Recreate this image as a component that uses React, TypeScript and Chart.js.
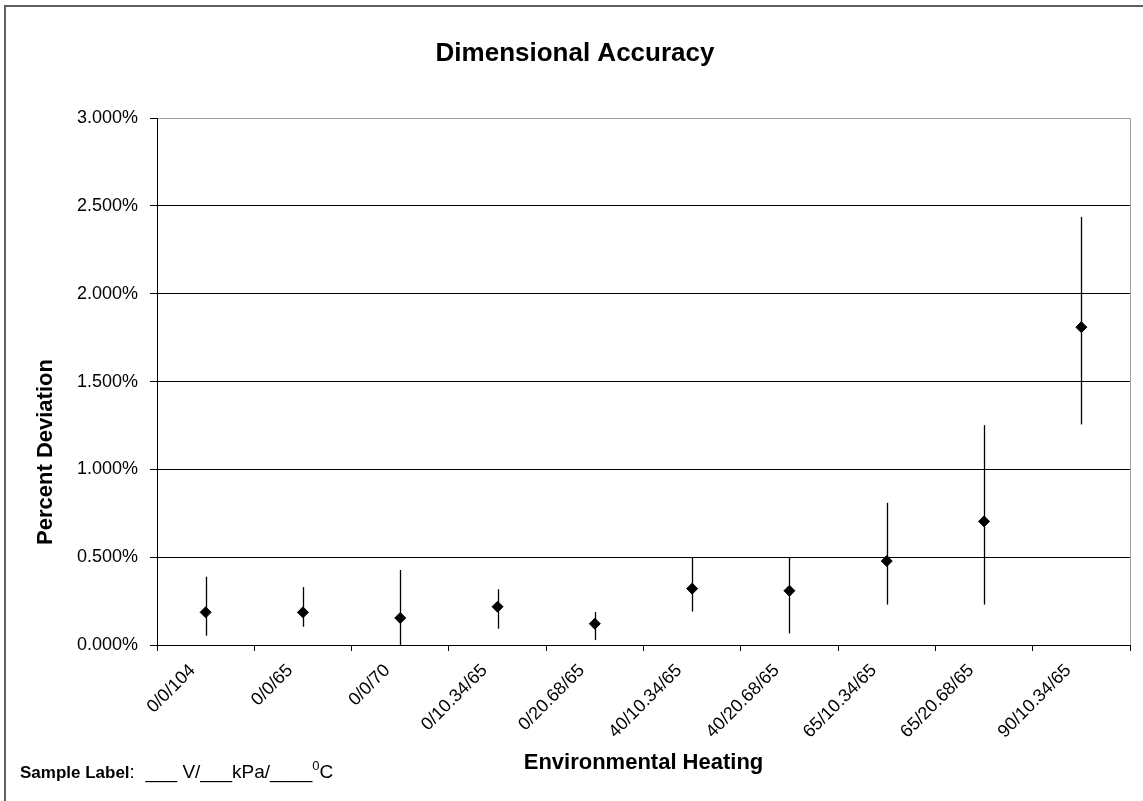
import React, { useEffect, useRef } from 'react';
import { Chart, registerables } from 'chart.js';

Chart.register(...registerables);

const categories = [
  '0/0/104',
  '0/0/65',
  '0/0/70',
  '0/10.34/65',
  '0/20.68/65',
  '40/10.34/65',
  '40/20.68/65',
  '65/10.34/65',
  '65/20.68/65',
  '90/10.34/65',
];
const meanValues = [0.186, 0.186, 0.154, 0.218, 0.121, 0.321, 0.309, 0.478, 0.704, 1.81];
const upperValues = [0.389, 0.33, 0.427, 0.317, 0.188, 0.5, 0.5, 0.81, 1.252, 2.438];
const lowerValues = [0.053, 0.104, 0.0, 0.093, 0.028, 0.19, 0.066, 0.23, 0.23, 1.256];

const chartTitle = 'Dimensional Accuracy';
const xTitle = 'Environmental Heating';
const yTitle = 'Percent Deviation';

const FONT = "'Liberation Sans', Arial, Helvetica, sans-serif";

export default function App() {
  const ref = useRef<HTMLCanvasElement>(null);

  useEffect(() => {
    if (!ref.current) return;

    const errorBars = {
      id: 'errorBars',
      beforeDatasetsDraw(chart: any) {
        const { ctx, scales } = chart;
        const x = scales.x;
        const y = scales.y;
        ctx.save();
        ctx.strokeStyle = '#000';
        ctx.lineWidth = 1.3;
        categories.forEach((_, i) => {
          const px = Math.round(x.getPixelForValue(i)) + 0.5;
          ctx.beginPath();
          ctx.moveTo(px, y.getPixelForValue(upperValues[i]));
          ctx.lineTo(px, y.getPixelForValue(lowerValues[i]));
          ctx.stroke();
        });
        ctx.restore();
      },
    };

    const frame = {
      id: 'frame',
      beforeDraw(chart: any) {
        const { ctx, width, height } = chart;
        ctx.save();
        ctx.fillStyle = '#fff';
        ctx.fillRect(0, 0, width, height);
        ctx.restore();
      },
      afterDraw(chart: any) {
        const { ctx, chartArea } = chart;
        ctx.save();
        // outer chart border
        ctx.strokeStyle = '#606060';
        ctx.lineWidth = 2;
        ctx.strokeRect(5, 6, 1200, 900);
        // plot area right border
        ctx.strokeStyle = '#a0a0a0';
        ctx.lineWidth = 1;
        ctx.beginPath();
        ctx.moveTo(Math.round(chartArea.right) + 0.5, chartArea.top);
        ctx.lineTo(Math.round(chartArea.right) + 0.5, chartArea.bottom);
        ctx.stroke();
        // y axis title
        ctx.fillStyle = '#000';
        ctx.font = `bold 22px ${FONT}`;
        ctx.textAlign = 'center';
        ctx.textBaseline = 'middle';
        ctx.translate(46, 452);
        ctx.rotate(-Math.PI / 2);
        ctx.fillText(yTitle, 0, 0);
        ctx.restore();

        // sample label
        ctx.save();
        ctx.fillStyle = '#000';
        ctx.textBaseline = 'alphabetic';
        ctx.textAlign = 'left';
        let cx = 20;
        const by = 778;
        ctx.font = `bold 17px ${FONT}`;
        ctx.fillText('Sample Label', cx, by);
        cx += ctx.measureText('Sample Label').width;
        ctx.font = `19px ${FONT}`;
        const mid = ':  ___ V/___kPa/____';
        ctx.fillText(mid, cx, by);
        cx += ctx.measureText(mid).width;
        ctx.font = `13px ${FONT}`;
        ctx.fillText('0', cx, by - 8);
        cx += ctx.measureText('0').width;
        ctx.font = `19px ${FONT}`;
        ctx.fillText('C', cx, by);
        ctx.restore();
      },
    };

    const chart = new Chart(ref.current, {
      type: 'line',
      data: {
        labels: categories,
        datasets: [
          {
            label: 'Percent Deviation',
            data: meanValues,
            showLine: false,
            pointStyle: 'rectRot',
            pointRadius: 5.5,
            pointBackgroundColor: '#000',
            pointBorderColor: '#000',
            pointBorderWidth: 1,
          },
        ],
      },
      options: {
        animation: false,
        responsive: false,
        devicePixelRatio: 1,
        layout: { padding: { left: 20, right: 13, top: 0, bottom: 0 } },
        plugins: {
          legend: { display: false },
          tooltip: { enabled: false },
          title: {
            display: true,
            text: chartTitle,
            color: '#000',
            font: { family: FONT, size: 26, weight: 'bold' },
            padding: { top: 38, bottom: 49 },
          },
        },
        scales: {
          x: {
            type: 'category',
            offset: true,
            afterFit(scale: any) {
              scale.height = 156;
            },
            grid: {
              offset: true,
              drawOnChartArea: false,
              drawTicks: true,
              tickLength: 6,
              color: '#000',
              tickColor: '#000',
            },
            border: { display: true, color: '#000', width: 1 },
            ticks: {
              autoSkip: false,
              minRotation: 45,
              maxRotation: 45,
              color: '#000',
              padding: 9,
              labelOffset: -13,
              font: { family: FONT, size: 18 },
            },
            title: {
              display: true,
              text: xTitle,
              color: '#000',
              font: { family: FONT, size: 22, weight: 'bold' },
              padding: { top: 0, bottom: 25 },
            },
          },
          y: {
            type: 'linear',
            min: 0,
            max: 3,
            afterFit(scale: any) {
              scale.width = 137;
            },
            grid: {
              color: (c: any) => (c.tick && c.tick.value === 3 ? '#a0a0a0' : '#000'),
              tickColor: '#000',
              tickLength: 7,
              lineWidth: 1,
            },
            border: { display: true, color: '#000', width: 1 },
            ticks: {
              stepSize: 0.5,
              color: '#000',
              padding: 12,
              font: { family: FONT, size: 18 },
              callback: (v: any) => Number(v).toFixed(3) + '%',
            },
          },
        },
      },
      plugins: [frame, errorBars],
    } as any);

    return () => chart.destroy();
  }, []);

  return (
    <div style={{ position: 'absolute', left: 0, top: 0, width: 1143, height: 801 }}>
      <canvas ref={ref} width={1143} height={801} style={{ width: 1143, height: 801 }} />
    </div>
  );
}
